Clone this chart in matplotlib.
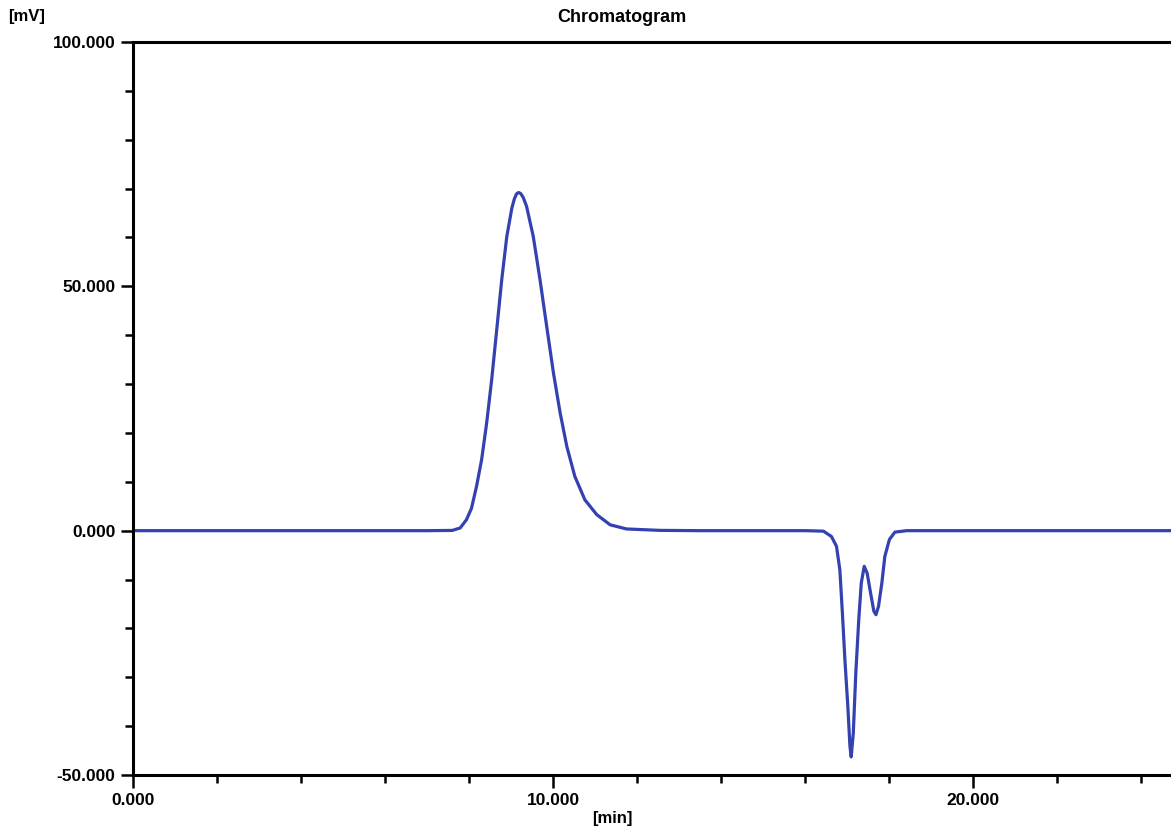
import matplotlib
matplotlib.use("Agg")
import matplotlib.pyplot as plt
from matplotlib.ticker import MultipleLocator, FormatStrFormatter

# retention time [min] and detector signal [mV]
time_min = [0.0, 7.0, 7.60, 7.79, 7.94, 8.06, 8.18, 8.30, 8.42, 8.54, 8.66,
            8.78, 8.90, 9.02, 9.08, 9.13, 9.18, 9.23, 9.29, 9.37, 9.53, 9.69, 9.85,
            10.01, 10.17, 10.33, 10.52, 10.76, 11.04, 11.36, 11.75, 12.55, 13.5,
            16.0, 16.44, 16.63, 16.75, 16.83, 16.89, 16.95, 17.02, 17.07, 17.10,
            17.15, 17.21, 17.28, 17.34, 17.41, 17.48, 17.56, 17.64, 17.69, 17.75,
            17.83, 17.90, 18.01, 18.14, 18.42, 24.8]
signal_mv = [0.0, 0.0, 0.05, 0.55, 2.25, 4.6, 9.1, 14.5, 22.0, 30.9, 41.1,
             51.4, 60.2, 66.0, 67.9, 68.9, 69.2, 69.0, 68.2, 66.4, 60.2, 51.4, 41.8,
             32.3, 24.1, 17.2, 11.1, 6.3, 3.3, 1.2, 0.35, 0.06, 0.0,
             0.0, -0.1, -1.2, -3.2, -8.0, -16.8, -26.4, -36.0, -44.1, -46.3,
             -41.4, -29.1, -18.2, -10.7, -7.3, -8.7, -12.7, -16.5, -17.2, -15.5,
             -10.7, -5.3, -1.8, -0.3, 0.0, 0.0]

title = "Chromatogram"
x_label = "[min]"
y_label = "[mV]"

plt.rcParams['font.family'] = ['Liberation Sans', 'DejaVu Sans']

fig = plt.figure(figsize=(11.71, 8.30), dpi=100)
ax = fig.add_axes([133 / 1171, 1 - 775 / 830, 1 - 133 / 1171, (775 - 42) / 830])

ax.plot(time_min, signal_mv, color="#3342b0", linewidth=2.3,
        solid_joinstyle="round", solid_capstyle="round")

ax.set_xlim(0, (1171 - 133) / 42)
ax.set_ylim(-50, 100)
ax.xaxis.set_major_locator(MultipleLocator(10))
ax.xaxis.set_minor_locator(MultipleLocator(2))
ax.yaxis.set_major_locator(MultipleLocator(50))
ax.yaxis.set_minor_locator(MultipleLocator(10))
ax.xaxis.set_major_formatter(FormatStrFormatter("%.3f"))
ax.yaxis.set_major_formatter(FormatStrFormatter("%.3f"))

for side in ["left", "bottom", "top"]:
    ax.spines[side].set_linewidth(2.2)
ax.spines["right"].set_visible(False)

ax.tick_params(which="major", direction="out", length=9, width=1.8, labelsize=12.5)
ax.tick_params(which="minor", direction="out", length=5.5, width=1.8)
ax.tick_params(axis="x", which="both", pad=4)
for lbl in ax.get_xticklabels() + ax.get_yticklabels():
    lbl.set_fontweight("bold")

fig.text(622 / 1171, 1 - 18 / 830, title, ha="center", va="center",
         fontsize=13, fontweight="bold")
fig.text(8 / 1171, 1 - 17 / 830, y_label, ha="left", va="center",
         fontsize=12, fontweight="bold")
fig.text(612 / 1171, 1 - 818 / 830, x_label, ha="center", va="center",
         fontsize=12, fontweight="bold")

fig.savefig("out.png", dpi=100)
